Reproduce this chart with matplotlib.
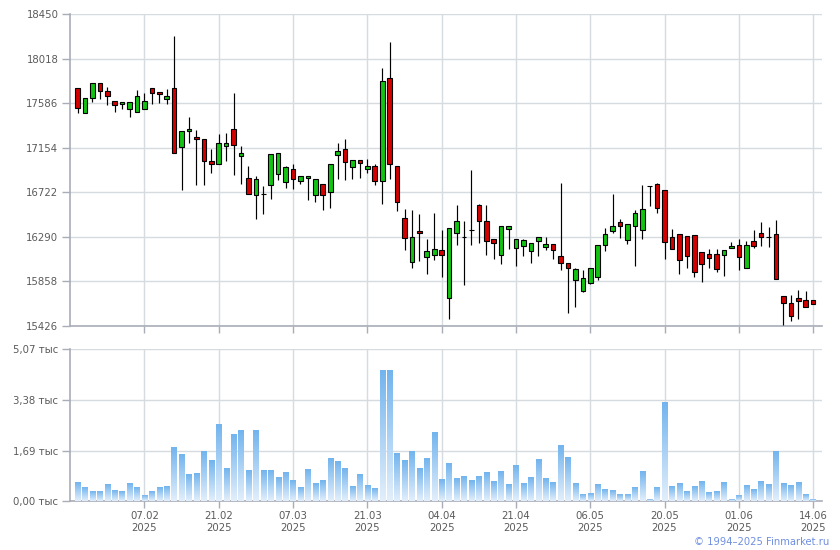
import numpy as np
import matplotlib
matplotlib.use('Agg')
import matplotlib.pyplot as plt
from matplotlib.colors import LinearSegmentedColormap

plt.rcParams['font.family'] = ['DejaVu Sans']

# Дневные свечи (торговые дни подряд)
OPEN = [17739, 17497, 17642, 17787, 17710, 17613, 17584, 17536, 17506, 17536,
        17739, 17700, 17633, 17739, 17159, 17314, 17255, 17236, 17022, 16993,
        17168, 17342, 17071, 16857, 16693, 16702, 16790, 16896, 16819, 16945,
        16829, 16857, 16693, 16799, 16722, 17081, 17148, 16964, 17032, 16945,
        16974, 16829, 17836, 16974, 16470, 16043, 16344, 16092, 16111, 16160,
        15694, 16325, 16286, 16353, 16596, 16441, 16266, 16111, 16363, 16179,
        16198, 16150, 16247, 16189, 16218, 16101, 16034, 15869, 15762, 15840,
        15898, 16208, 16344, 16431, 16257, 16392, 16353, 16780, 16799, 16741,
        16286, 16315, 16295, 16305, 16140, 16121, 16121, 16111, 16179, 16208,
        15985, 16247, 16325, 16286, 16315, 15714, 15646, 15694, 15675, 15675]
HIGH = [17739, 17642, 17787, 17787, 17749, 17613, 17603, 17603, 17720, 17691,
        17739, 17700, 17729, 18237, 17314, 17449, 17323, 17236, 17148, 17284,
        17294, 17691, 17168, 16974, 16877, 16780, 17090, 17100, 16980, 16993,
        16877, 16877, 16848, 16799, 16993, 17197, 17245, 17032, 17032, 17051,
        16993, 17933, 18185, 16974, 16557, 16547, 16508, 16266, 16518, 16353,
        16373, 16596, 16441, 16935, 16605, 16596, 16266, 16392, 16392, 16266,
        16266, 16228, 16286, 16286, 16218, 16809, 16034, 15985, 15966, 15985,
        16208, 16373, 16702, 16460, 16412, 16547, 16790, 16780, 16809, 16741,
        16363, 16315, 16295, 16305, 16140, 16169, 16169, 16160, 16237, 16266,
        16247, 16353, 16431, 16383, 16450, 15714, 15724, 15772, 15762, 15675]
LOW = [17493, 17497, 17603, 17629, 17574, 17506, 17532, 17449, 17506, 17536,
       17584, 17594, 17584, 17100, 16747, 17197, 16795, 16795, 16906, 16993,
       17022, 16887, 16799, 16702, 16465, 16514, 16660, 16844, 16766, 16757,
       16799, 16650, 16631, 16553, 16572, 16848, 16838, 16848, 16857, 16906,
       16790, 16605, 16848, 16543, 16160, 15985, 16053, 15927, 16063, 15898,
       15491, 16208, 15820, 16208, 16228, 16111, 16072, 16024, 16169, 16005,
       16101, 16034, 16101, 16160, 16072, 15966, 15549, 15607, 15752, 15830,
       15869, 16150, 16325, 16276, 16218, 16005, 16266, 16586, 16518, 16072,
       16169, 15927, 15985, 15898, 15850, 15985, 15946, 15908, 16179, 15966,
       15985, 16179, 16198, 16189, 15878, 15433, 15472, 15491, 15607, 15636]
CLOSE = [17545, 17642, 17787, 17710, 17662, 17574, 17603, 17603, 17662, 17613,
         17691, 17681, 17662, 17100, 17314, 17342, 17245, 17022, 16993, 17197,
         17197, 17178, 17100, 16702, 16848, 16702, 17090, 17100, 16964, 16848,
         16877, 16877, 16848, 16693, 16993, 17120, 17013, 17032, 17003, 16974,
         16829, 17807, 16993, 16625, 16276, 16286, 16325, 16150, 16169, 16111,
         16373, 16441, 16286, 16353, 16441, 16247, 16228, 16392, 16392, 16266,
         16257, 16228, 16286, 16218, 16160, 16034, 15985, 15976, 15888, 15985,
         16208, 16315, 16392, 16392, 16412, 16518, 16557, 16780, 16566, 16237,
         16169, 16063, 16101, 15946, 16024, 16082, 15976, 16160, 16198, 16092,
         16208, 16198, 16286, 16286, 15878, 15646, 15520, 15665, 15607, 15636]
# Объём, тыс.
VOLUME = [0.61, 0.44, 0.31, 0.31, 0.54, 0.34, 0.31, 0.58, 0.44, 0.18,
          0.31, 0.44, 0.48, 1.78, 1.55, 0.88, 0.91, 1.65, 1.35, 2.55,
          1.08, 2.21, 2.35, 1.01, 2.35, 1.01, 1.01, 0.78, 0.95, 0.68,
          0.44, 1.05, 0.58, 0.68, 1.41, 1.31, 1.08, 0.48, 0.88, 0.51,
          0.41, 4.35, 4.35, 1.58, 1.35, 1.65, 1.08, 1.41, 2.28, 0.71,
          1.25, 0.74, 0.81, 0.68, 0.81, 0.95, 0.64, 0.98, 0.54, 1.18,
          0.58, 0.78, 1.38, 0.74, 0.61, 1.85, 1.45, 0.58, 0.21, 0.24,
          0.54, 0.38, 0.34, 0.21, 0.21, 0.44, 0.98, 0.04, 0.44, 3.28,
          0.48, 0.58, 0.31, 0.48, 0.64, 0.28, 0.31, 0.61, 0.04, 0.18,
          0.51, 0.38, 0.64, 0.54, 1.65, 0.58, 0.51, 0.61, 0.21, 0.04]

DATE_LABELS = ['07.02', '21.02', '07.03', '21.03', '04.04',
               '21.04', '06.05', '20.05', '01.06', '14.06']
PRICE_TICKS = [15426, 15858, 16290, 16722, 17154, 17586, 18018, 18450]
VOL_TICKS = [0.0, 1.69, 3.38, 5.07]

GRID = '#d6dbe0'
SPINE = '#a9adb7'
TXT = '#5a5a5a'
FS = 7.3

W, H = 840, 550
fig = plt.figure(figsize=(W / 100, H / 100), dpi=100)
left, right = 70.3, 821.7
ax1 = fig.add_axes([left / W, 1 - 326 / H, (right - left) / W, (326 - 14.3) / H])
ax2 = fig.add_axes([left / W, 1 - 501.3 / H, (right - left) / W, (501.3 - 349.3) / H])

x = np.arange(len(OPEN))
o, h, l, c = map(np.array, (OPEN, HIGH, LOW, CLOSE))
tick_pos = np.arange(9, len(x), 10)
xlim = (-0.98, 100.15)

# свечи
ax1.vlines(x, l, h, color='black', lw=0.85, zorder=3)
colors = np.where(c > o, '#12c412', np.where(c < o, '#d40000', 'black'))
ax1.bar(x, np.abs(c - o), bottom=np.minimum(o, c), width=0.62,
        color=colors, edgecolor='black', lw=0.8, zorder=4)
ax1.set_ylim(PRICE_TICKS[0], PRICE_TICKS[-1])
ax1.set_yticks(PRICE_TICKS)
ax1.set_yticklabels([str(t) for t in PRICE_TICKS])

# объёмы с градиентом
cmap = LinearSegmentedColormap.from_list('vol', ['#e3effb', '#72b4ee'])
grad = np.linspace(0, 1, 128).reshape(-1, 1)
bw = 0.72
for xi, v in zip(x, VOLUME):
    ax2.imshow(grad, extent=[xi - bw / 2, xi + bw / 2, 0, v], origin='lower',
               aspect='auto', cmap=cmap, zorder=3, interpolation='bilinear')
ax2.set_ylim(0, VOL_TICKS[-1])
ax2.set_yticks(VOL_TICKS)
ax2.set_yticklabels([f'{t:.2f}'.replace('.', ',') + ' тыс' for t in VOL_TICKS])

for ax in (ax1, ax2):
    ax.set_xlim(*xlim)
    ax.set_xticks(tick_pos)
    ax.grid(True, color=GRID, lw=1.0, zorder=0)
    ax.set_axisbelow(True)
    for s in ('top', 'right'):
        ax.spines[s].set_visible(False)
    for s in ('left', 'bottom'):
        ax.spines[s].set_color(SPINE)
        ax.spines[s].set_linewidth(1.2)
    ax.tick_params(axis='y', length=6, width=1, color=SPINE, pad=2.5,
                   labelsize=FS, labelcolor=TXT)
    ax.tick_params(axis='x', length=5, width=1, color=SPINE, pad=2,
                   labelsize=FS, labelcolor=TXT)

ax1.set_xticklabels([])
ax2.set_xticklabels([d + '\n2025' for d in DATE_LABELS], linespacing=1.25)

fig.text(829 / W, 1 - 542 / H, '© 1994–2025 Finmarket.ru', ha='right', va='center',
         fontsize=7.2, color='#6f8fe0')

fig.savefig('out.png', dpi=100)
